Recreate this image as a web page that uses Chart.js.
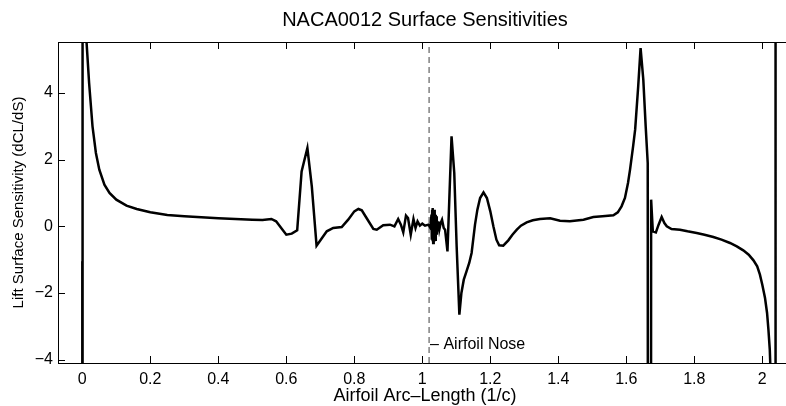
<!DOCTYPE html>
<html>
<head>
<meta charset="utf-8">
<script src="https://cdn.jsdelivr.net/npm/chart.js@4.4.1/dist/chart.umd.min.js"></script>
<style>
    body { margin: 0; background: #fff; }
    #wrap { width: 786px; height: 406px; }
</style>
</head>
<body>
<div id="wrap"><canvas id="sensChart" width="786" height="406"></canvas></div>
<script>
// airfoil arc-length (1/c) and lift surface sensitivity dCL/dS
const arcLength = [
    0.000, 0.0005, 0.001, 0.006, 0.012, 0.020, 0.030, 0.040, 0.050, 0.065,
    0.080, 0.100, 0.130, 0.160, 0.200, 0.250, 0.300, 0.350, 0.400, 0.450,
    0.500, 0.530, 0.556, 0.570, 0.585, 0.600, 0.616, 0.632, 0.645, 0.662,
    0.675, 0.689, 0.705, 0.719, 0.738, 0.763, 0.782, 0.800, 0.812, 0.822,
    0.836, 0.856, 0.866, 0.885, 0.905, 0.918, 0.929, 0.937, 0.944, 0.952,
    0.958, 0.966, 0.974, 0.980, 0.986, 0.993, 1.000, 1.008, 1.018, 1.024,
    1.027, 1.028, 1.029, 1.030, 1.031, 1.032, 1.033, 1.034, 1.035, 1.036,
    1.037, 1.038, 1.039, 1.040, 1.041, 1.042, 1.043, 1.045, 1.047, 1.050,
    1.054, 1.058, 1.063, 1.067, 1.074, 1.086, 1.094, 1.101,
    1.109, 1.115, 1.122, 1.130, 1.138, 1.145, 1.155, 1.162, 1.170, 1.180,
    1.190, 1.200, 1.209, 1.218, 1.226, 1.238, 1.253, 1.265, 1.278, 1.290,
    1.307, 1.325, 1.346, 1.376, 1.405, 1.434, 1.474, 1.503, 1.530, 1.562,
    1.575, 1.586, 1.596, 1.605, 1.611, 1.620, 1.626, 1.635, 1.642, 1.650,
    1.657, 1.663, 1.666, 1.671, 1.673, 1.678, 1.687, 1.695, 1.704, 1.712,
    1.719, 1.733, 1.758, 1.780, 1.807, 1.830, 1.856, 1.880, 1.905, 1.925,
    1.944, 1.960, 1.974, 1.985, 1.993, 2.000, 2.008, 2.014, 2.018, 2.022,
    2.025, 2.030, 2.038, 2.039
];
const sensitivity = [
    -1.05, -60, 60, 12, 5.6, 4.3, 3.0, 2.2, 1.7, 1.25,
    1.0, 0.8, 0.62, 0.52, 0.42, 0.34, 0.30, 0.27, 0.24, 0.22,
    0.20, 0.19, 0.22, 0.15, -0.05, -0.25, -0.22, -0.12, 1.65, 2.35,
    1.2, -0.58, -0.35, -0.15, -0.05, -0.02, 0.2, 0.45, 0.52, 0.48,
    0.25, -0.08, -0.1, 0.03, 0.05, 0.0, 0.22, 0.05, -0.18, 0.32,
    0.25, -0.25, 0.22, -0.05, 0.15, 0.02, 0.08, 0.02, 0.05, -0.05,
    0.35, -0.4, 0.5, -0.45, 0.55, -0.5, 0.45, -0.5, 0.5, -0.45,
    0.4, -0.4, 0.35, -0.3, 0.3, -0.25, 0.2, -0.15, 0.15, -0.1,
    0.1, 0.2, -0.05, -0.1, -0.75, 2.7, 1.6, -0.6,
    -2.65, -2.0, -1.6, -1.35, -1.1, -0.8, 0.05, 0.5, 0.85, 1.02,
    0.85, 0.45, 0.0, -0.4, -0.57, -0.58, -0.42, -0.25, -0.1, 0.02,
    0.12, 0.18, 0.22, 0.24, 0.17, 0.15, 0.2, 0.28, 0.3, 0.33,
    0.42, 0.6, 0.85, 1.3, 1.7, 2.4, 2.9, 4.2, 5.35, 4.4,
    3.0, 1.9, -60, -60, 0.8, -0.15, -0.18, 0.05, 0.28, 0.1,
    0.0, -0.08, -0.1, -0.15, -0.2, -0.25, -0.32, -0.4, -0.5, -0.6,
    -0.72, -0.85, -1.02, -1.2, -1.45, -1.75, -2.15, -2.6, -3.1, -3.7,
    -4.6, -20, -60, 60
];

const xTicks = [0, 0.2, 0.4, 0.6, 0.8, 1, 1.2, 1.4, 1.6, 1.8, 2];
const yTicks = [-4, -2, 0, 2, 4];
const xRange = [-0.0715, 2.0697];
const yRange = [-4.1, 5.53];

const noseArc = 1.02;
const noseLabel = "\u2013 Airfoil Nose";
const noseLabelY = -3.55;

const titleText = "NACA0012 Surface Sensitivities";
const xLabelText = "Airfoil Arc\u2013Length (1/c)";

const FONT = "'Liberation Sans', Arial, Helvetica, sans-serif";
// the original axes run a little past the right edge of the picture,
// so the title and x label are centred on that wider box
const textCenterX = 425;

const points = arcLength.map((x, i) => ({ x: x, y: sensitivity[i] }));

// inward ticks, top box line, title, x label, nose annotation
const frame = {
    id: "frame",
    afterDatasetsDraw(chart) {
        const ctx = chart.ctx;
        const a = chart.chartArea;
        const xs = chart.scales.x;
        const ys = chart.scales.y;
        const len = 7;
        ctx.save();
        ctx.strokeStyle = "#000";
        ctx.lineWidth = 1;
        ctx.beginPath();
        ctx.moveTo(a.left, a.top + 0.5);
        ctx.lineTo(a.right, a.top + 0.5);
        for (let v of xTicks) {
            const px = Math.round(xs.getPixelForValue(v)) + 0.5;
            ctx.moveTo(px, a.bottom);
            ctx.lineTo(px, a.bottom - len);
            ctx.moveTo(px, a.top);
            ctx.lineTo(px, a.top + len);
        }
        for (let v of yTicks) {
            const py = Math.round(ys.getPixelForValue(v)) + 0.5;
            ctx.moveTo(a.left, py);
            ctx.lineTo(a.left + len, py);
        }
        ctx.stroke();

        ctx.fillStyle = "#000";
        ctx.textBaseline = "middle";

        ctx.textAlign = "center";
        ctx.font = "20px " + FONT;
        ctx.fillText(titleText, textCenterX, 20);
        ctx.font = "18px " + FONT;
        ctx.fillText(xLabelText, textCenterX, 396);

        ctx.textAlign = "left";
        ctx.font = "16px " + FONT;
        ctx.fillText(noseLabel, xs.getPixelForValue(noseArc) + 1, ys.getPixelForValue(noseLabelY));
        ctx.restore();
    }
};

new Chart(document.getElementById("sensChart"), {
    type: "scatter",
    data: {
        datasets: [
            {
                data: points,
                showLine: true,
                borderColor: "#000",
                borderWidth: 2.5,
                pointRadius: 0,
                tension: 0,
                clip: 0,
                order: 1
            },
            {
                // dashed nose marker
                data: [{ x: noseArc, y: yRange[0] }, { x: noseArc, y: yRange[1] }],
                showLine: true,
                borderColor: "#808080",
                borderWidth: 1.5,
                borderDash: [6, 4],
                pointRadius: 0,
                clip: 0,
                order: 2
            }
        ]
    },
    options: {
        responsive: false,
        animation: false,
        layout: { padding: { left: 0, right: 0, top: 42, bottom: 0 } },
        plugins: {
            legend: { display: false },
            tooltip: { enabled: false },
            title: { display: false }
        },
        scales: {
            x: {
                type: "linear",
                min: xRange[0],
                max: xRange[1],
                afterBuildTicks: s => { s.ticks = xTicks.map(v => ({ value: v })); },
                afterFit: s => { s.height = 43; },
                grid: { drawOnChartArea: false, drawTicks: false },
                border: { display: true, color: "#000", width: 1 },
                ticks: {
                    color: "#000",
                    padding: 7,
                    maxRotation: 0,
                    font: { family: FONT, size: 16 },
                    callback: v => String(v)
                },
                title: { display: false }
            },
            y: {
                type: "linear",
                min: yRange[0],
                max: yRange[1],
                afterBuildTicks: s => { s.ticks = yTicks.map(v => ({ value: v })); },
                afterFit: s => { s.width = 58; },
                grid: { drawOnChartArea: false, drawTicks: false },
                border: { display: true, color: "#000", width: 1 },
                ticks: {
                    color: "#000",
                    padding: 5,
                    font: { family: FONT, size: 16 },
                    callback: v => String(v).replace("-", "\u2212")
                },
                title: {
                    display: true,
                    text: "Lift Surface Sensitivity (dCL/dS)",
                    color: "#000",
                    font: { family: FONT, size: 15 },
                    padding: { top: 10, bottom: 0 }
                }
            }
        }
    },
    plugins: [frame]
});
</script>
</body>
</html>
